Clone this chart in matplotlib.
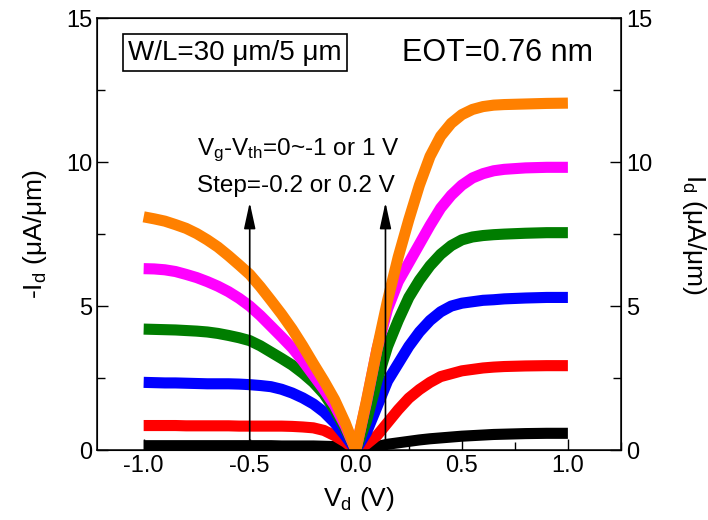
import matplotlib
matplotlib.use('Agg')
import matplotlib.pyplot as plt
from matplotlib.ticker import MultipleLocator

plt.rcParams['font.family'] = ['Liberation Sans', 'DejaVu Sans']
plt.rcParams['mathtext.fontset'] = 'custom'
plt.rcParams['mathtext.rm'] = 'Liberation Sans'
plt.rcParams['mathtext.it'] = 'Liberation Sans'
plt.rcParams['axes.unicode_minus'] = False

# p-type side (V_d from -1 to 0), values are -I_d in uA/um
vd_p = [-1.0, -0.95, -0.9, -0.85, -0.8, -0.75, -0.7, -0.65, -0.6, -0.55, -0.5,
        -0.45, -0.4, -0.35, -0.3, -0.25, -0.2, -0.15, -0.1, -0.05, 0.0]
black_p = [0.15, 0.15, 0.15, 0.15, 0.15, 0.15, 0.15, 0.15, 0.15, 0.15, 0.15,
           0.15, 0.15, 0.14, 0.14, 0.14, 0.14, 0.13, 0.12, 0.08, 0.0]
red_p = [0.85, 0.85, 0.85, 0.85, 0.84, 0.84, 0.84, 0.84, 0.84, 0.83, 0.83,
         0.83, 0.83, 0.83, 0.82, 0.8, 0.77, 0.68, 0.5, 0.28, 0.0]
blue_p = [2.35, 2.34, 2.33, 2.33, 2.32, 2.31, 2.3, 2.3, 2.3, 2.29, 2.27,
          2.24, 2.2, 2.11, 1.98, 1.81, 1.6, 1.32, 0.95, 0.5, 0.0]
green_p = [4.2, 4.19, 4.18, 4.17, 4.15, 4.13, 4.1, 4.05, 3.98, 3.9, 3.8,
           3.62, 3.4, 3.18, 2.95, 2.67, 2.35, 1.95, 1.4, 0.75, 0.0]
magenta_p = [6.3, 6.29, 6.26, 6.2, 6.1, 5.99, 5.85, 5.69, 5.5, 5.27, 5.0,
             4.67, 4.3, 3.93, 3.55, 3.1, 2.6, 2.1, 1.55, 0.85, 0.0]
orange_p = [8.1, 8.03, 7.95, 7.83, 7.7, 7.52, 7.3, 7.05, 6.75, 6.43, 6.1,
            5.67, 5.2, 4.72, 4.2, 3.62, 3.0, 2.4, 1.75, 0.95, 0.0]

# n-type side (V_d from 0 to 1), values are I_d in uA/um
vd_n = [0.0, 0.05, 0.1, 0.15, 0.2, 0.25, 0.3, 0.35, 0.4, 0.45, 0.5, 0.55, 0.6,
        0.65, 0.7, 0.8, 0.9, 1.0]
black_n = [0.0, 0.05, 0.12, 0.2, 0.25, 0.3, 0.35, 0.39, 0.42, 0.45, 0.48, 0.5, 0.52,
           0.54, 0.55, 0.57, 0.58, 0.58]
red_n = [0.0, 0.2, 0.5, 0.95, 1.4, 1.8, 2.1, 2.35, 2.55, 2.65, 2.75, 2.8, 2.85,
         2.88, 2.9, 2.92, 2.93, 2.93]
blue_n = [0.0, 0.6, 1.5, 2.4, 3.0, 3.6, 4.1, 4.5, 4.8, 5.0, 5.1, 5.15, 5.2,
          5.22, 5.25, 5.28, 5.3, 5.3]
green_n = [0.0, 1.0, 2.4, 3.6, 4.5, 5.3, 5.9, 6.4, 6.8, 7.1, 7.3, 7.4, 7.45,
           7.48, 7.5, 7.53, 7.55, 7.55]
magenta_n = [0.0, 1.65, 3.5, 4.9, 5.85, 6.5, 7.15, 7.8, 8.4, 8.85, 9.2, 9.45, 9.6,
             9.7, 9.75, 9.8, 9.82, 9.82]
orange_n = [0.0, 1.7, 3.5, 5.2, 6.7, 8.0, 9.2, 10.2, 10.9, 11.35, 11.65, 11.83, 11.93,
            11.98, 12.0, 12.02, 12.04, 12.05]

colors = ['black', '#ff0000', '#0000ff', '#007d00', '#ff00ff', '#ff8000']
p_curves = [black_p, red_p, blue_p, green_p, magenta_p, orange_p]
n_curves = [black_n, red_n, blue_n, green_n, magenta_n, orange_n]

fig = plt.figure(figsize=(7.08, 5.2), dpi=100)
ax = fig.add_axes([0.137, 0.1346, 0.74, 0.8304])

for c, yp, yn in zip(colors, p_curves, n_curves):
    ax.plot(vd_p, yp, color=c, lw=8, solid_joinstyle='round', solid_capstyle='butt')
    ax.plot(vd_n, yn, color=c, lw=8, solid_joinstyle='round', solid_capstyle='butt')

ax.set_xlim(-1.22, 1.25)
ax.set_ylim(0, 15)
ax.set_xticks([-1.0, -0.5, 0.0, 0.5, 1.0])
ax.xaxis.set_minor_locator(MultipleLocator(0.25))
ax.yaxis.set_major_locator(MultipleLocator(5))
ax.yaxis.set_minor_locator(MultipleLocator(2.5))
ax.tick_params(which='both', direction='in', labelsize=17, width=1)
ax.tick_params(which='major', length=8)
ax.tick_params(which='minor', length=6)
ax.tick_params(axis='y', which='both', right=False)
for s in ax.spines.values():
    s.set_linewidth(1.1)

ax2 = ax.twinx()
ax2.set_ylim(0, 15)
ax2.yaxis.set_major_locator(MultipleLocator(5))
ax2.yaxis.set_minor_locator(MultipleLocator(2.5))
ax2.tick_params(which='both', direction='in', labelsize=17, width=1)
ax2.tick_params(which='major', length=8)
ax2.tick_params(which='minor', length=6)

ax.set_xlabel(r'V$_\mathrm{d}$ (V)', fontsize=19, labelpad=6)
ax.set_ylabel(r'-I$_\mathrm{d}$ ($\mathrm{\mu}$A/$\mathrm{\mu}$m)', fontsize=19, labelpad=12)
ax2.set_ylabel(r'I$_\mathrm{d}$ ($\mathrm{\mu}$A/$\mathrm{\mu}$m)', fontsize=19, rotation=270, labelpad=40)

# annotations
ax.text(-0.57, 13.8, 'W/L=30 μm/5 μm', fontsize=20, ha='center', va='center',
        bbox=dict(boxstyle='square,pad=0.2', fc='white', ec='black', lw=1.2))
ax.text(0.67, 13.8, 'EOT=0.76 nm', fontsize=22, ha='center', va='center')
ax.text(-0.75, 10.24, r'V$_\mathrm{g}$-V$_\mathrm{th}$=0~-1 or 1 V', fontsize=17.5,
        ha='left', va='baseline')
ax.text(-0.75, 8.96, 'Step=-0.2 or 0.2 V', fontsize=17.5, ha='left', va='baseline')

arrow = dict(arrowstyle='-|>,head_length=1.6,head_width=0.35', color='black', lw=1.2,
             shrinkA=0, shrinkB=0)
ax.annotate('', xy=(-0.5, 8.6), xytext=(-0.5, 0.0), arrowprops=arrow, zorder=10)
ax.annotate('', xy=(0.14, 8.6), xytext=(0.14, 0.3), arrowprops=arrow, zorder=10)

fig.savefig('out.png', dpi=100)
